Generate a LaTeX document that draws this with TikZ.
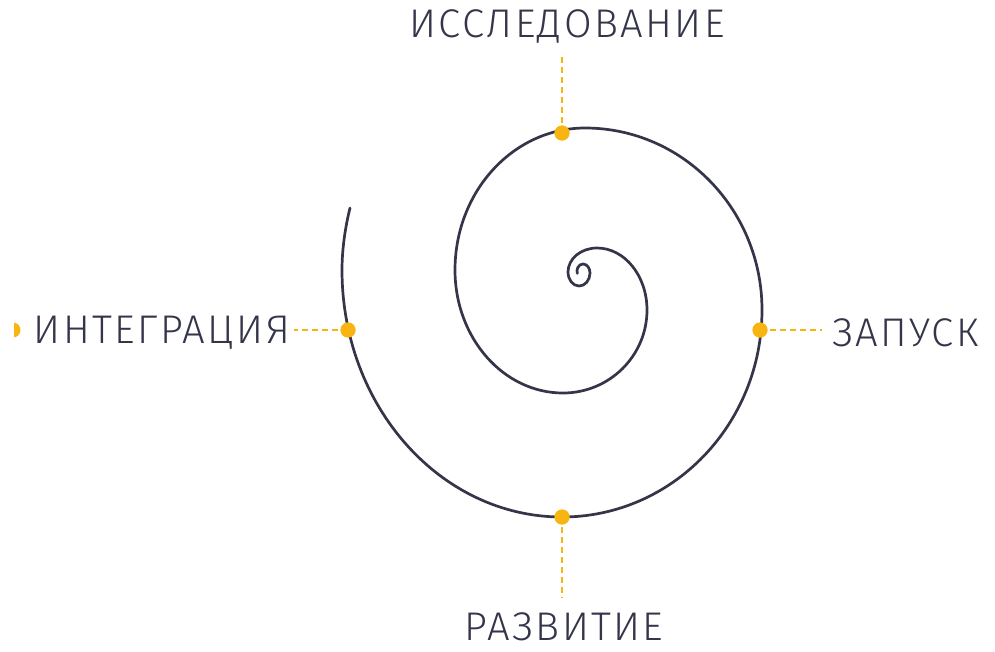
\documentclass[tikz,border=0pt]{standalone}
\usepackage{fontspec}
\setmainfont{Fira Sans Light}
\definecolor{ink}{HTML}{35354A}
\definecolor{gold}{HTML}{F8B512}
\begin{document}
\begin{tikzpicture}[x=1pt,y=-1pt,
  spiral/.style={draw=ink, line width=2.7pt, line cap=round},
  dot/.style={circle, fill=gold, inner sep=0pt, minimum size=15pt},
  link/.style={draw=gold, line width=1.9pt, dash pattern=on 6pt off 4pt},
  lbl/.style={text=ink, inner sep=0pt, font=\fontsize{40}{40}\selectfont\addfontfeatures{LetterSpace=6}}]
\useasboundingbox (0,0) rectangle (995,651);

% spiral
\draw[spiral] (350,208) .. controls (345,228) and (342,250) .. (342,270)
  arc[start angle=180, end angle=90, x radius=220, y radius=247]
  arc[start angle=90, end angle=0, x radius=200, y radius=207]
  arc[start angle=0, end angle=-90, x radius=177, y radius=182]
  arc[start angle=-90, end angle=-180, x radius=130, y radius=142]
  arc[start angle=180, end angle=90, x radius=108, y radius=123]
  arc[start angle=90, end angle=0, x radius=84, y radius=83]
  arc[start angle=0, end angle=-90, x radius=50, y radius=62]
  arc[start angle=-90, end angle=-180, x radius=29, y radius=24]
  arc[start angle=180, end angle=90, x radius=11, y radius=14]
  arc[start angle=90, end angle=0, x radius=11, y radius=13]
  arc[start angle=0, end angle=-90, x radius=7, y radius=9]
  arc[start angle=-90, end angle=-200, x radius=6, y radius=7];

% labels
\node[lbl] (ltop) at (567,26) {ИССЛЕДОВАНИЕ};
\node[lbl, anchor=west] (lright) at (832,333) {ЗАПУСК};
\node[lbl] (lbot) at (564,627) {РАЗВИТИЕ};
\node[lbl, anchor=east] (lleft) at (290,333) {ИНТЕГРАЦИЯ};

% dots
\node[dot] (dtop) at (562,133) {};
\node[dot] (dright) at (760,330) {};
\node[dot] (dbot) at (562,517) {};
\node[dot] (dleft) at (348,330) {};

\coordinate (etop) at (562,55);
\coordinate (eright) at (822,330);
\coordinate (ebot) at (562,598);
\coordinate (eleft) at (294,330);

\draw[link] (dtop.center) -- (etop);
\draw[link] (dright.center) -- (eright);
\draw[link] (dbot.center) -- (ebot);
\draw[link] (dleft.center) -- (eleft);

\node[dot] at (562,133) {};
\node[dot] at (760,330) {};
\node[dot] at (562,517) {};
\node[dot] at (348,330) {};

% partial dot at left edge
\begin{scope}
  \clip (14,320) rectangle (24,340);
  \node[dot] (dedge) at (13,330) {};
\end{scope}
\end{tikzpicture}
\end{document}
